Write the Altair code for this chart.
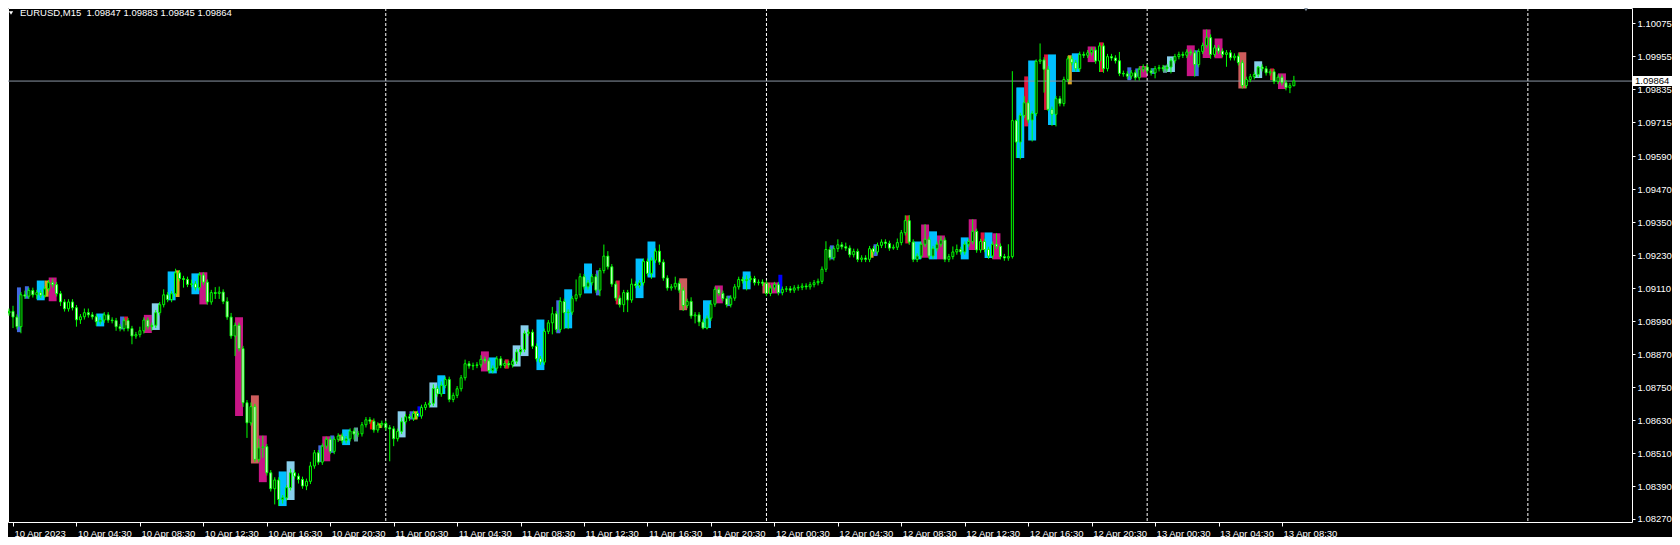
import altair as alt
import pandas as pd

# ---------------- data ----------------
first_open = 1.09020
closes = [
    1.09026, 1.09005, 1.08970, 1.09086, 1.09081, 1.09102, 1.09086, 1.09094, 1.09084, 1.09108,
    1.09130, 1.09123, 1.09090, 1.09060, 1.09035, 1.09060, 1.09039, 1.08995, 1.09006, 1.09021,
    1.09013, 1.09006, 1.08988, 1.08994, 1.09013, 1.08994, 1.08992, 1.08970, 1.08963, 1.08992,
    1.08963, 1.08936, 1.08941, 1.08955, 1.08994, 1.08970, 1.08975, 1.09021, 1.09050, 1.09086,
    1.09069, 1.09090, 1.09166, 1.09145, 1.09142, 1.09124, 1.09126, 1.09112, 1.09158, 1.09132,
    1.09060, 1.09094, 1.09091, 1.09096, 1.09062, 1.09005, 1.08936, 1.08975, 1.08890, 1.08693,
    1.08620, 1.08679, 1.08487, 1.08529, 1.08533, 1.08438, 1.08380, 1.08412, 1.08341, 1.08347,
    1.08384, 1.08438, 1.08426, 1.08414, 1.08390, 1.08407, 1.08463, 1.08511, 1.08477, 1.08535,
    1.08560, 1.08516, 1.08560, 1.08572, 1.08555, 1.08562, 1.08590, 1.08579, 1.08580, 1.08613,
    1.08631, 1.08626, 1.08594, 1.08612, 1.08618, 1.08602, 1.08598, 1.08562, 1.08589, 1.08624,
    1.08642, 1.08637, 1.08654, 1.08645, 1.08676, 1.08686, 1.08691, 1.08745, 1.08725, 1.08756,
    1.08778, 1.08705, 1.08720, 1.08744, 1.08784, 1.08835, 1.08827, 1.08829, 1.08831, 1.08851,
    1.08846, 1.08810, 1.08819, 1.08853, 1.08829, 1.08836, 1.08831, 1.08844, 1.08878, 1.08887,
    1.08946, 1.08950, 1.08899, 1.08853, 1.08841, 1.08953, 1.08984, 1.09017, 1.08960, 1.09062,
    1.09021, 1.09023, 1.09072, 1.09086, 1.09152, 1.09115, 1.09130, 1.09152, 1.09103, 1.09174,
    1.09227, 1.09188, 1.09125, 1.09074, 1.09050, 1.09094, 1.09067, 1.09125, 1.09120, 1.09130,
    1.09208, 1.09164, 1.09212, 1.09245, 1.09205, 1.09147, 1.09111, 1.09115, 1.09128, 1.09103,
    1.09047, 1.09062, 1.09009, 1.09013, 1.08987, 1.08965, 1.09001, 1.09052, 1.09106, 1.09091,
    1.09072, 1.09050, 1.09074, 1.09115, 1.09142, 1.09137, 1.09142, 1.09145, 1.09130, 1.09132,
    1.09128, 1.09091, 1.09111, 1.09123, 1.09094, 1.09106, 1.09108, 1.09103, 1.09111, 1.09113,
    1.09118, 1.09115, 1.09123, 1.09130, 1.09135, 1.09179, 1.09251, 1.09221, 1.09254, 1.09268,
    1.09261, 1.09256, 1.09232, 1.09244, 1.09215, 1.09220, 1.09215, 1.09254, 1.09242, 1.09266,
    1.09278, 1.09273, 1.09256, 1.09259, 1.09276, 1.09312, 1.09356, 1.09278, 1.09215, 1.09227,
    1.09270, 1.09288, 1.09227, 1.09254, 1.09270, 1.09285, 1.09215, 1.09225, 1.09242, 1.09251,
    1.09242, 1.09270, 1.09280, 1.09317, 1.09249, 1.09280, 1.09251, 1.09227, 1.09270, 1.09263,
    1.09225, 1.09220, 1.09225, 1.09720, 1.09642, 1.09739, 1.09785, 1.09722, 1.09746, 1.09936,
    1.09941, 1.09907, 1.09761, 1.09743, 1.09800, 1.09782, 1.09870, 1.09945, 1.09931, 1.09909,
    1.09961, 1.09958, 1.09967, 1.09977, 1.09937, 1.09992, 1.09909, 1.09953, 1.09948, 1.09938,
    1.09892, 1.09890, 1.09882, 1.09894, 1.09876, 1.09907, 1.09915, 1.09901, 1.09894, 1.09909,
    1.09913, 1.09909, 1.09915, 1.09938, 1.09953, 1.09961, 1.09958, 1.09970, 1.09967, 1.09924,
    1.09972, 1.09994, 1.10022, 1.09961, 1.09985, 1.09973, 1.09961, 1.09967, 1.09949, 1.09955,
    1.09931, 1.09848, 1.09870, 1.09880, 1.09888, 1.09915, 1.09909, 1.09894, 1.09898, 1.09863,
    1.09878, 1.09858, 1.09840, 1.09847, 1.09864,
]
# wick lengths beyond the body, in pips
wick_up = [
    1, 2, 1, 1, 1.5, 1, 1, 1, 1, 1,
    1, 1.5, 1, 1, 1, 1, 1, 1, 1, 1.5,
    1.5, 1, 1, 1, 1, 1, 1, 1, 1, 1,
    1, 1, 1, 1.5, 1, 1, 1, 1, 1, 2,
    1, 1, 1.5, 1, 1, 1, 1.5, 1, 1, 1,
    1, 1, 2, 2, 1, 1.5, 1.5, 1, 1, 1,
    1, 1.5, 1, 3.3, 4, 1, 1, 1, 1, 1,
    1, 1.5, 1, 1, 1, 1, 1.5, 1, 1, 1,
    1, 1, 1, 1, 1, 1, 1, 1, 1, 1,
    1, 1, 1, 1, 1, 1, 1, 1, 1, 1.5,
    1, 1, 1, 1, 1, 1, 1, 1.5, 1, 1.5,
    1, 1, 1, 1, 1, 1.5, 1, 1, 1, 1.5,
    1, 1, 1, 1, 1, 1, 1, 1, 1, 1,
    1, 1, 1, 1, 1, 1, 1, 2.5, 1, 1.5,
    1, 1, 1, 5.6, 1.2, 1, 1, 1, 1, 1,
    4.2, 1.8, 1, 1, 1, 1, 1, 2, 1, 1,
    1, 1, 1, 1, 2.4, 1, 1, 1, 2.4, 1,
    1, 1, 1.5, 1, 1, 1, 1, 1.5, 1, 1,
    1, 1, 1, 1, 1, 1, 1.5, 1, 1, 1,
    1, 1, 1, 1, 1, 1, 1, 1, 1, 1,
    1, 1, 1, 1, 1, 1, 3, 1, 1, 2,
    1, 1.5, 1, 1, 1, 1, 1, 1, 1, 1,
    1, 1, 1, 1, 1.5, 1, 1.9, 2, 1, 1,
    1, 5.5, 1, 1, 1, 1.5, 1, 1, 2, 1.8,
    1, 1, 1, 4.4, 1, 1, 1, 1, 1, 4,
    1, 1, 4.5, 18, 0.5, 1, 2.4, 1, 1, 0.7,
    6, 1, 1.2, 1, 1, 1, 1, 1, 1, 1,
    1, 1, 1, 1, 1, 1.2, 1, 1, 1, 1,
    3.2, 1, 1, 1, 1, 1, 1, 1, 1, 1,
    1, 1, 1, 1, 1, 1, 1, 1, 1, 1,
    1, 1, 3, 1.2, 1, 1, 1, 1, 1, 1,
    1, 1, 1, 1, 1, 0.4, 1, 1, 1, 1,
    1, 1, 1, 1, 1.9,
]
wick_dn = [
    1, 4, 1, 2.4, 1, 1, 1, 1.5, 1, 1,
    1, 1, 1, 1.5, 1, 1, 1, 2.5, 1.5, 1,
    1, 1, 1.5, 1, 1, 1, 1, 1.5, 1, 1,
    1, 3, 1, 1, 1, 1, 1.5, 1, 1, 1,
    1, 1, 1, 1, 3, 1, 1, 1, 1, 1,
    1, 1, 2, 2, 1, 1, 1, 7.3, 1, 1.5,
    5.5, 1, 1, 1, 3.6, 1, 1, 5.7, 2.4, 1.5,
    1, 1, 1, 1.5, 1, 1.5, 1, 1, 1, 1,
    1, 1, 1, 1, 1, 1, 1, 2, 1, 1,
    1, 1, 1, 1, 1, 1, 11.8, 2.7, 1, 1,
    1, 1, 1, 1, 1, 1, 1, 1, 1, 1,
    1, 1, 1, 1, 1, 1, 1, 1.5, 1, 1,
    1, 1, 1, 1, 1, 1, 1, 1, 1, 1,
    1, 1, 1, 1, 1, 1, 1, 4.2, 1, 1,
    6, 6, 1, 1, 1, 1, 1, 1, 1, 2.2,
    1, 1, 1, 1, 1, 2.7, 4.4, 1, 1, 1,
    1, 1, 2, 1, 1, 1, 1, 1, 1, 1,
    2, 1, 1, 2.7, 1.5, 0.5, 0.5, 1, 1, 1,
    1, 1, 1, 1, 1, 1, 3.5, 1, 1, 1,
    1, 1, 1, 1, 1, 1, 1, 1, 1, 1,
    1, 1, 1, 1, 1, 1, 1, 1, 1, 1.2,
    1, 1, 1, 1, 1, 1, 1, 1, 1, 1,
    1, 1.7, 1, 0.6, 1, 1, 1, 1, 1, 1,
    1, 1, 1, 1, 1, 1, 1, 1, 1, 1,
    1, 1, 1, 1, 1, 1, 1, 1, 1, 1,
    1, 1, 1, 0.7, 5.8, 6.3, 1, 1, 7.8, 1,
    1, 8.5, 0.6, 4.2, 4.4, 1, 1, 1, 1, 1,
    1, 1, 1, 1, 1, 4, 1.5, 1, 1, 1,
    1, 1, 1, 1, 1, 1, 1, 1, 1, 2,
    1, 1, 1, 2.3, 1, 1, 1, 1, 1, 4.4,
    1, 1, 1, 1.6, 1, 1, 1, 4.5, 1, 1,
    1, 1.1, 1, 1, 1, 1, 1, 1, 1, 1,
    1, 1, 1, 2, 0.2,
]

# coloured indicator boxes (bar index of left / right edge, price top / bottom, colour kind)
box_x0 = [3, 5, 8, 10, 11, 23, 29, 30, 35, 37, 41, 43, 47, 49, 58, 62, 64, 69, 71, 79,
          80, 82, 84, 85, 88, 92, 94, 99, 102, 103, 104, 107, 109, 120, 122, 126, 128, 130, 134, 139,
          141, 146, 149, 154, 159, 162, 170, 176, 179, 182, 186, 191, 193, 195, 208, 218, 219, 227, 229, 231,
          233, 235, 241, 243, 246, 247, 249, 255, 257, 258, 262, 263, 268, 269, 273, 276, 283, 285, 286, 289,
          292, 293, 298, 300, 302, 305, 311, 315, 319, 321]
box_x1 = [4, 6, 10, 11, 13, 25, 30, 31, 37, 39, 43, 44, 49, 51, 60, 64, 66, 71, 73, 80,
          82, 83, 85, 87, 89, 93, 95, 101, 103, 104, 105, 109, 111, 122, 124, 127, 130, 132, 136, 140,
          143, 148, 150, 155, 161, 164, 172, 178, 181, 183, 188, 193, 195, 196, 209, 219, 220, 228, 231, 233,
          235, 237, 243, 245, 247, 249, 251, 257, 258, 260, 263, 265, 269, 271, 275, 277, 284, 286, 288, 290,
          293, 295, 300, 301, 304, 307, 313, 317, 320, 323]
box_top = [1.09113, 1.09117, 1.09138, 1.09138, 1.09149, 1.09018, 1.09007, 1.09007, 1.09013, 1.09055,
           1.09171, 1.09175, 1.09164, 1.09168, 1.09004, 1.08720, 1.08574, 1.08443, 1.08480, 1.08538,
           1.08571, 1.08574, 1.08577, 1.08596, 1.08603, 1.08631, 1.08618, 1.08662, 1.08662, 1.08662,
           1.08680, 1.08767, 1.08793, 1.08880, 1.08858, 1.08851, 1.08902, 1.08975, 1.08996, 1.09066,
           1.09106, 1.09200, 1.09175, 1.09138, 1.09218, 1.09280, 1.09146, 1.09066, 1.09120, 1.09083,
           1.09171, 1.09131, 1.09131, 1.09159, 1.09266, 1.09251, 1.09270, 1.09375, 1.09280, 1.09342,
           1.09317, 1.09302, 1.09295, 1.09361, 1.09313, 1.09313, 1.09310, 1.09841, 1.09881, 1.09939,
           1.09961, 1.09961, 1.09958, 1.09965, 1.09990, 1.10005, 1.09914, 1.09910, 1.09919, 1.09911,
           1.09921, 1.09954, 1.09994, 1.09976, 1.10052, 1.10019, 1.09969, 1.09936, 1.09910, 1.09892]
box_bot = [1.08950, 1.09072, 1.09066, 1.09079, 1.09063, 1.08971, 1.08960, 1.08975, 1.08947, 1.08958,
           1.09066, 1.09078, 1.09088, 1.09051, 1.08645, 1.08472, 1.08404, 1.08317, 1.08339, 1.08477,
           1.08480, 1.08511, 1.08555, 1.08539, 1.08552, 1.08596, 1.08601, 1.08567, 1.08632, 1.08632,
           1.08642, 1.08676, 1.08725, 1.08807, 1.08800, 1.08817, 1.08825, 1.08863, 1.08812, 1.08946,
           1.08964, 1.09091, 1.09084, 1.09051, 1.09074, 1.09149, 1.09030, 1.08965, 1.09055, 1.09045,
           1.09106, 1.09091, 1.09091, 1.09091, 1.09215, 1.09221, 1.09227, 1.09273, 1.09215, 1.09221,
           1.09215, 1.09215, 1.09215, 1.09249, 1.09249, 1.09220, 1.09215, 1.09584, 1.09699, 1.09648,
           1.09759, 1.09704, 1.09852, 1.09897, 1.09933, 1.09897, 1.09867, 1.09880, 1.09877, 1.09890,
           1.09894, 1.09897, 1.09882, 1.09882, 1.09948, 1.09947, 1.09837, 1.09875, 1.09868, 1.09835]
box_kind = ["royal", "royal", "sky", "gold", "pink", "sky", "royal", "crimson", "pink", "light",
            "sky", "gold", "sky", "pink", "pink", "indian", "pink", "sky", "light", "royal",
            "pink", "royal", "indian", "sky", "cadet", "red", "gold", "light", "royal", "gold",
            "blue", "light", "sky", "pink", "sky", "crimson", "light", "light", "sky", "royal",
            "sky", "sky", "royal", "crimson", "sky", "sky", "indian", "sky", "pink", "royal",
            "sky", "indian", "pink", "blue", "royal", "gold", "royal", "crimson", "sky", "pink",
            "sky", "pink", "sky", "pink", "crimson", "sky", "pink", "sky", "crimson", "sky",
            "crimson", "sky", "gold", "sky", "pink", "crimson", "royal", "royal", "pink", "royal",
            "cadet", "light", "pink", "royal", "pink", "pink", "indian", "light", "crimson", "pink"]

kind_names = ["pink", "sky", "light", "indian", "royal", "crimson", "red", "gold", "blue", "cadet"]
kind_colors = ["#C71585", "#00BFFF", "#87CEEB", "#CD5C5C", "#4169E1", "#DC143C", "#FF0000",
               "#DAA520", "#0000FF", "#5F9EA0"]

day_breaks = [96, 192, 288, 384]
x_tick_bars = [2, 18, 34, 50, 66, 82, 98, 114, 130, 146, 162, 178, 194, 210, 226, 242,
               258, 274, 290, 306, 322]
x_tick_labels = ["10 Apr 2023", "10 Apr 04:30", "10 Apr 08:30", "10 Apr 12:30", "10 Apr 16:30",
                 "10 Apr 20:30", "11 Apr 00:30", "11 Apr 04:30", "11 Apr 08:30", "11 Apr 12:30",
                 "11 Apr 16:30", "11 Apr 20:30", "12 Apr 00:30", "12 Apr 04:30", "12 Apr 08:30",
                 "12 Apr 12:30", "12 Apr 16:30", "12 Apr 20:30", "13 Apr 00:30", "13 Apr 04:30",
                 "13 Apr 08:30"]
y_tick_values = [1.10075, 1.09955, 1.09835, 1.09715, 1.09590, 1.09470, 1.09350, 1.09230,
                 1.09110, 1.08990, 1.08870, 1.08750, 1.08630, 1.08510, 1.08390, 1.08270]
last_price = 1.09864
header_text = "EURUSD,M15\u00a0\u00a01.09847 1.09883 1.09845 1.09864"

assert len(closes) == len(wick_up) == len(wick_dn)

# ---------------- tables ----------------
opens = [first_open] + closes[:-1]
rows = []
for k, (o, c) in enumerate(zip(opens, closes)):
    rows.append({
        "bar": k + 1, "open": o, "close": c,
        "high": max(o, c) + wick_up[k] * 1e-4,
        "low": min(o, c) - wick_dn[k] * 1e-4,
        "body": "bear" if c < o else "bull",
    })
candles = pd.DataFrame(rows)
boxes = pd.DataFrame({"x0": box_x0, "x1": box_x1, "top": box_top, "bot": box_bot, "kind": box_kind})
seps = pd.DataFrame({"bar": day_breaks})
price = pd.DataFrame({"p": [last_price], "t": [f"{last_price:.5f}"]})
head = pd.DataFrame({"t": [header_text]})

# ---------------- styling ----------------
W, H = 1624, 514
FONT = "Liberation Sans"
GREEN = "#00FF00"
xs = alt.Scale(domain=[2, 409], nice=False, zero=False)
ys = alt.Scale(domain=[1.08259, 1.10130], nice=False, zero=False)

labels_js = "[" + ",".join("'" + s + "'" for s in x_tick_labels) + "]"
bars_js = "[" + ",".join(str(b) for b in x_tick_bars) + "]"
x_axis = alt.Axis(values=x_tick_bars, labelExpr=f"{labels_js}[indexof({bars_js}, datum.value)]",
                  labelAlign="left", labelBaseline="top", labelPadding=2, labelOffset=1,
                  tickSize=4, labelFlush=False, labelOverlap=False, grid=False, domain=False,
                  title=None, orient="bottom")
y_axis = alt.Axis(orient="right", values=y_tick_values, format=".5f", tickSize=3,
                  labelPadding=2, labelAlign="left", labelBaseline="middle",
                  labelOverlap=False, labelFlush=False, grid=False, domain=False, title=None)


def X(field):
    return alt.X(field, type="quantitative", scale=xs, axis=x_axis)


def Y(field):
    return alt.Y(field, type="quantitative", scale=ys, axis=y_axis)


box_layer = alt.Chart(boxes).mark_rect(clip=True).encode(
    x=X("x0"), x2="x1", y=Y("top"), y2="bot",
    color=alt.Color("kind:N", scale=alt.Scale(domain=kind_names, range=kind_colors), legend=None),
)
sep_layer = alt.Chart(seps).mark_rule(color="#ffffff", strokeWidth=1, strokeDash=[3, 2]).encode(
    x=X("bar")
)
price_line = alt.Chart(price).mark_rule(color="#8a96a3", strokeWidth=1).encode(
    y=Y("p")
)
wick_layer = alt.Chart(candles).mark_rule(color=GREEN, strokeWidth=1, clip=True).encode(
    x=X("bar"), y=Y("low"), y2="high",
)
body_layer = alt.Chart(candles).mark_bar(size=2, stroke=GREEN, strokeWidth=1, clip=True).encode(
    x=X("bar"), y=Y("open"), y2="close",
    fill=alt.Fill("body:N", scale=alt.Scale(domain=["bull", "bear"], range=["#000000", "#ffffff"]),
                  legend=None),
)
head_tri = alt.Chart(head).mark_point(shape="triangle-down", filled=True, color="#ffffff",
                                      size=18, opacity=1).encode(
    x=alt.value(3), y=alt.value(5)
)
head_txt = alt.Chart(head).mark_text(align="left", baseline="middle", font=FONT, fontSize=9.5,
                                     color="#ffffff").encode(
    x=alt.value(12), y=alt.value(5), text="t:N"
)
shift_tri = alt.Chart(head).mark_point(shape="triangle-down", filled=True, color="#7d8c9c",
                                       size=30, opacity=1).encode(
    x=alt.value(1298), y=alt.value(1)
)
price_box = alt.Chart(price).mark_tick(orient="horizontal", thickness=10, size=44,
                                       color="#ffffff", opacity=1).encode(
    y=Y("p"), x=alt.value(1646)
)
price_txt = alt.Chart(price).mark_text(align="left", baseline="middle", font=FONT, fontSize=9.5,
                                       color="#000000").encode(
    y=Y("p"), x=alt.value(1627), text="t:N"
)

chart = alt.layer(
    box_layer, sep_layer, price_line, wick_layer, body_layer,
    head_tri, head_txt, shift_tri, price_box, price_txt,
).properties(
    width=W, height=H,
    autosize=alt.AutoSizeParams(type="none"),
    padding={"left": 0, "top": 0, "right": 40, "bottom": 15},
    background="#000000",
).configure_view(
    stroke="#ffffff", strokeWidth=1, fill="#000000"
).configure_axis(
    labelFont=FONT, labelFontSize=9.5, labelColor="#ffffff", tickColor="#ffffff", tickWidth=1
)

chart.save("out.html", embed_options={"renderer": "svg", "actions": False})
